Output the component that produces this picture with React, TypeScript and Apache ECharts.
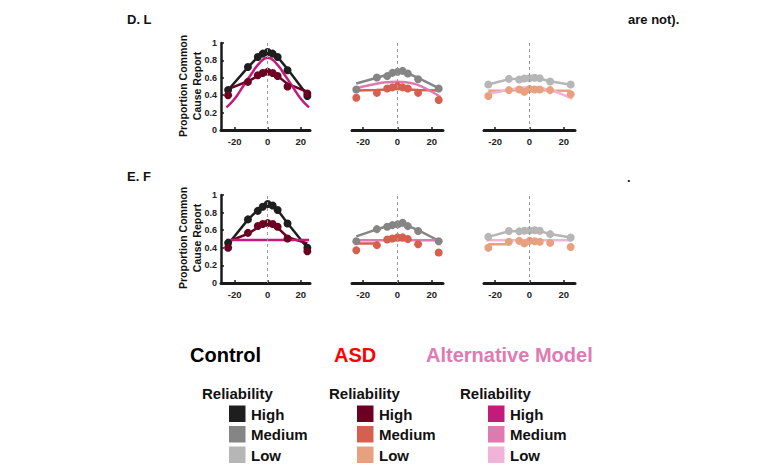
import React, { useEffect, useRef } from "react";
import * as echarts from "echarts";

// x positions of the measured conditions
const xs = [-24, -12, -6, -3, 0, 3, 6, 12, 24];
// x positions sampled along the alternative-model curves
const altXs = [-25, -20, -15, -10, -5, 0, 5, 10, 15, 20, 25];
const flatXs = [-25, 25];
const tickValues = [-20, 0, 20];

// Panel D (top row)
const dCtrlHighDots = [0.46, 0.725, 0.84, 0.878, 0.897, 0.878, 0.84, 0.687, 0.39];
const dCtrlHighFit = [0.46, 0.72, 0.84, 0.87, 0.88, 0.87, 0.84, 0.7, 0.4];
const dAsdHighDots = [0.4, 0.553, 0.63, 0.656, 0.668, 0.656, 0.62, 0.5, 0.42];
const dAsdHighFit = [0.47, 0.56, 0.62, 0.64, 0.65, 0.64, 0.62, 0.53, 0.44];
const dAltHigh = [0.26, 0.36, 0.5, 0.64, 0.77, 0.83, 0.77, 0.64, 0.5, 0.36, 0.26];

const dCtrlMedDots = [0.466, 0.604, 0.619, 0.657, 0.668, 0.68, 0.65, 0.584, 0.477];
const dCtrlMedFit = [0.535, 0.6, 0.635, 0.655, 0.665, 0.665, 0.65, 0.6, 0.48];
const dAsdMedDots = [0.37, 0.427, 0.477, 0.49, 0.504, 0.49, 0.477, 0.427, 0.344];
const dAsdMedFit = [0.455, 0.46, 0.465, 0.47, 0.47, 0.47, 0.465, 0.46, 0.455];
const dAltMed = [0.47, 0.5, 0.52, 0.54, 0.55, 0.555, 0.55, 0.53, 0.49, 0.44, 0.38];

const dCtrlLowDots = [0.523, 0.588, 0.58, 0.592, 0.595, 0.6, 0.595, 0.557, 0.523];
const dCtrlLowFit = [0.523, 0.585, 0.59, 0.595, 0.6, 0.6, 0.59, 0.56, 0.52];
const dAsdLowDots = [0.39, 0.458, 0.465, 0.44, 0.47, 0.465, 0.465, 0.458, 0.41];
const dAsdLowFit = [0.45, 0.455, 0.46, 0.46, 0.46, 0.46, 0.46, 0.455, 0.45];
const dAltLow = [0.41, 0.43, 0.45, 0.47, 0.485, 0.49, 0.485, 0.47, 0.44, 0.4, 0.36];

// Panel E (bottom row)
const eCtrlHighDots = [0.456, 0.723, 0.82, 0.867, 0.897, 0.88, 0.83, 0.677, 0.4];
const eCtrlHighFit = [0.44, 0.72, 0.83, 0.87, 0.89, 0.87, 0.83, 0.68, 0.4];
const eAsdHighDots = [0.4, 0.57, 0.647, 0.67, 0.68, 0.67, 0.64, 0.506, 0.36];
const eAsdHighFit = [0.47, 0.56, 0.63, 0.66, 0.67, 0.66, 0.63, 0.52, 0.45];
const eAltHigh = [0.49, 0.49];

const eCtrlMedDots = [0.475, 0.612, 0.64, 0.658, 0.666, 0.684, 0.646, 0.59, 0.475];
const eCtrlMedFit = [0.53, 0.61, 0.645, 0.66, 0.67, 0.67, 0.65, 0.6, 0.48];
const eAsdMedDots = [0.373, 0.43, 0.495, 0.505, 0.518, 0.518, 0.5, 0.44, 0.346];
const eAsdMedFit = [0.45, 0.45];
const eAltMed = [0.487, 0.487];

const eCtrlLowDots = [0.524, 0.59, 0.587, 0.593, 0.595, 0.6, 0.593, 0.555, 0.517];
const eCtrlLowFit = [0.524, 0.588, 0.59, 0.594, 0.598, 0.598, 0.59, 0.556, 0.518];
const eAsdLowDots = [0.4, 0.468, 0.479, 0.45, 0.479, 0.475, 0.468, 0.456, 0.41];
const eAsdLowFit = [0.44, 0.44];
const eAltLow = [0.487, 0.487];

const levels = ["High", "Medium", "Low"];
const groupTitles = ["Control", "ASD", "Alternative Model"];

const ctrlColors = ["#1e1e1e", "#858585", "#b6b6b6"];
const asdColors = ["#6b0022", "#d6604d", "#e9a07e"];
const altColors = ["#c41a7a", "#de7ab0", "#f0b4d8"];
const titleColors = ["#000000", "#ff0000", "#e07ab4"];

const FONT = "'Liberation Sans', Arial, Helvetica, sans-serif";

type Panel = {
  left: number;
  width: number;
  top: number;
  height: number;
  xmin: number;
  xmax: number;
  level: number;
  ctrlDots: number[];
  ctrlFit: number[];
  asdDots: number[];
  asdFit: number[];
  altX: number[];
  alt: number[];
  altSmooth: boolean;
  showY: boolean;
};

const panels: Panel[] = [
  { left: 221, width: 89, top: 43, height: 87, xmin: -28.3, xmax: 25.6, level: 0, ctrlDots: dCtrlHighDots, ctrlFit: dCtrlHighFit, asdDots: dAsdHighDots, asdFit: dAsdHighFit, altX: altXs, alt: dAltHigh, altSmooth: true, showY: true },
  { left: 352, width: 91, top: 43, height: 87, xmin: -26.5, xmax: 26.5, level: 1, ctrlDots: dCtrlMedDots, ctrlFit: dCtrlMedFit, asdDots: dAsdMedDots, asdFit: dAsdMedFit, altX: altXs, alt: dAltMed, altSmooth: true, showY: false },
  { left: 484, width: 91, top: 43, height: 87, xmin: -26.5, xmax: 26.5, level: 2, ctrlDots: dCtrlLowDots, ctrlFit: dCtrlLowFit, asdDots: dAsdLowDots, asdFit: dAsdLowFit, altX: altXs, alt: dAltLow, altSmooth: true, showY: false },
  { left: 221, width: 89, top: 195, height: 88, xmin: -28.3, xmax: 25.6, level: 0, ctrlDots: eCtrlHighDots, ctrlFit: eCtrlHighFit, asdDots: eAsdHighDots, asdFit: eAsdHighFit, altX: flatXs, alt: eAltHigh, altSmooth: false, showY: true },
  { left: 352, width: 91, top: 195, height: 88, xmin: -26.5, xmax: 26.5, level: 1, ctrlDots: eCtrlMedDots, ctrlFit: eCtrlMedFit, asdDots: eAsdMedDots, asdFit: eAsdMedFit, altX: flatXs, alt: eAltMed, altSmooth: false, showY: false },
  { left: 484, width: 91, top: 195, height: 88, xmin: -26.5, xmax: 26.5, level: 2, ctrlDots: eCtrlLowDots, ctrlFit: eCtrlLowFit, asdDots: eAsdLowDots, asdFit: eAsdLowFit, altX: flatXs, alt: eAltLow, altSmooth: false, showY: false },
];

const zip = (a: number[], b: number[]) => a.map((v, i) => [v, b[i]]);

function buildOption() {
  const grid: any[] = [];
  const xAxis: any[] = [];
  const yAxis: any[] = [];
  const series: any[] = [];
  const graphic: any[] = [];

  panels.forEach((p, i) => {
    grid.push({ left: p.left, top: p.top, width: p.width, height: p.height, containLabel: false });
    xAxis.push({
      type: "value",
      gridIndex: i,
      min: p.xmin,
      max: p.xmax,
      axisLine: { show: true, onZero: false, lineStyle: { color: "#1a1a1a", width: 3 } },
      axisTick: { show: true, inside: true, length: 3, customValues: tickValues, lineStyle: { color: "#1a1a1a", width: 1.5 } },
      axisLabel: { show: true, customValues: tickValues, margin: 6, fontSize: 9.5, fontWeight: "bold", color: "#222", fontFamily: FONT },
      splitLine: { show: false },
    });
    yAxis.push({
      type: "value",
      gridIndex: i,
      min: 0,
      max: 1,
      interval: 0.2,
      show: p.showY,
      axisLine: { show: true, onZero: false, lineStyle: { color: "#1a1a1a", width: 2.5 } },
      axisTick: { show: true, inside: true, length: 3, lineStyle: { color: "#1a1a1a", width: 1.5 } },
      axisLabel: { show: true, margin: 4, fontSize: 9, fontWeight: "bold", color: "#222", fontFamily: FONT },
      splitLine: { show: false },
    });

    const lvl = p.level;
    series.push({
      type: "line",
      xAxisIndex: i,
      yAxisIndex: i,
      data: zip(xs, p.ctrlFit),
      showSymbol: false,
      lineStyle: { color: ctrlColors[lvl], width: 2.5 },
      itemStyle: { color: ctrlColors[lvl] },
      z: 2,
      markLine: {
        silent: true,
        symbol: "none",
        label: { show: false },
        lineStyle: { type: [3, 3], color: "#9a9a9a", width: 1 },
        data: [{ xAxis: 0 }],
      },
    });
    series.push({
      type: "line",
      xAxisIndex: i,
      yAxisIndex: i,
      data: zip(xs, p.asdFit),
      showSymbol: false,
      lineStyle: { color: asdColors[lvl], width: 2.5 },
      itemStyle: { color: asdColors[lvl] },
      z: 2,
    });
    series.push({
      type: "line",
      xAxisIndex: i,
      yAxisIndex: i,
      data: zip(p.altX, p.alt),
      smooth: p.altSmooth ? 0.5 : false,
      showSymbol: false,
      lineStyle: { color: altColors[lvl], width: 2.5 },
      itemStyle: { color: altColors[lvl] },
      z: 3,
    });
    series.push({
      type: "scatter",
      xAxisIndex: i,
      yAxisIndex: i,
      data: zip(xs, p.ctrlDots),
      symbolSize: 8,
      itemStyle: { color: ctrlColors[lvl], opacity: 1 },
      z: 4,
    });
    series.push({
      type: "scatter",
      xAxisIndex: i,
      yAxisIndex: i,
      data: zip(xs, p.asdDots),
      symbolSize: 8,
      itemStyle: { color: asdColors[lvl], opacity: 1 },
      z: 4,
    });
  });

  const textStyle = (text: string, size: number, color: string, weight: string = "bold") => ({
    text,
    fontSize: size,
    fontWeight: weight,
    fill: color,
    fontFamily: FONT,
    textVerticalAlign: "middle",
  });

  // Panel headings (cropped in the reference)
  graphic.push({ type: "text", left: 127, top: 13, style: textStyle("D. L", 13, "#111") });
  graphic.push({ type: "text", left: 628, top: 13, style: textStyle("are not).", 13, "#111") });
  graphic.push({ type: "text", left: 127, top: 170, style: textStyle("E. F", 13, "#111") });
  graphic.push({ type: "text", left: 627, top: 171, style: textStyle(".", 13, "#111") });

  // y-axis titles
  [86, 238].forEach((cy) => {
    graphic.push({
      type: "text",
      x: 183,
      y: cy,
      rotation: Math.PI / 2,
      style: { ...textStyle("Proportion Common", 10.5, "#111"), textAlign: "center" },
    });
    graphic.push({
      type: "text",
      x: 196.5,
      y: cy,
      rotation: Math.PI / 2,
      style: { ...textStyle("Cause Report", 10.5, "#111"), textAlign: "center" },
    });
  });

  // Legend
  const titleX = [190, 334, 426];
  const headX = [202, 329, 460];
  const boxX = [229, 357, 488];
  const textX = [251, 379, 510];
  const rowY = [405.5, 426, 446.5];
  const colorSets = [ctrlColors, asdColors, altColors];
  groupTitles.forEach((t, g) => {
    graphic.push({ type: "text", x: titleX[g], y: 355, style: textStyle(t, 20, titleColors[g]) });
    graphic.push({ type: "text", x: headX[g], y: 393, style: textStyle("Reliability", 15, "#111") });
    levels.forEach((lv, k) => {
      graphic.push({
        type: "rect",
        shape: { x: boxX[g], y: rowY[k], width: 16.5, height: 16.5 },
        style: { fill: colorSets[g][k] },
      });
      graphic.push({ type: "text", x: textX[g], y: rowY[k] + 8.5, style: textStyle(lv, 15, "#111") });
    });
  });

  return {
    animation: false,
    backgroundColor: "#ffffff",
    grid,
    xAxis,
    yAxis,
    series,
    graphic,
  };
}

export default function App() {
  const ref = useRef<HTMLDivElement>(null);
  useEffect(() => {
    document.body.style.margin = "0";
    if (!ref.current) return;
    const chart = echarts.init(ref.current, undefined, { renderer: "svg" });
    chart.setOption(buildOption() as any);
    return () => chart.dispose();
  }, []);
  return <div ref={ref} style={{ width: 774, height: 472 }} />;
}
